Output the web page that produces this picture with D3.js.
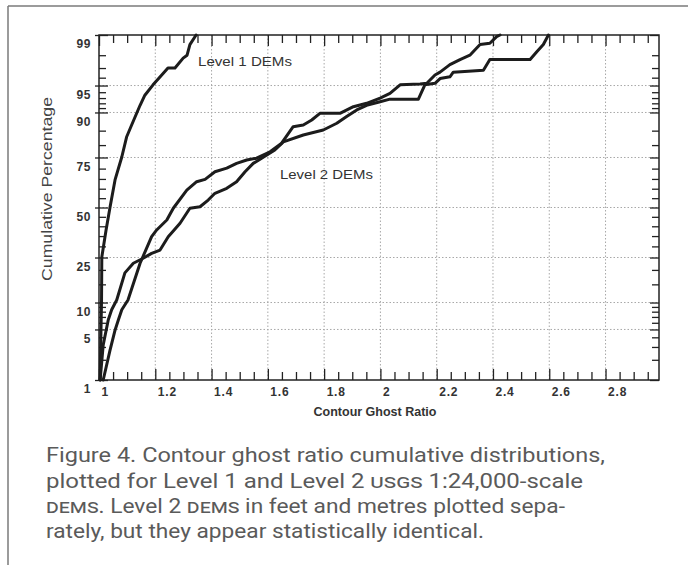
<!DOCTYPE html>
<html>
<head>
<meta charset="utf-8">
<script src="https://cdn.jsdelivr.net/npm/d3@7"></script>
<style>
  html, body { margin: 0; padding: 0; background: #ffffff; }
  svg { display: block; }
  .sc { font-variant-caps: all-small-caps; }
</style>
</head>
<body>
<svg id="chart" width="688" height="565"></svg>
<script>
// ---------------- DATA ----------------
const xMajorTicks = [1, 1.2, 1.4, 1.6, 1.8, 2, 2.2, 2.4, 2.6, 2.8];
const xMinorTicks = [1.05, 1.1, 1.15, 1.25, 1.3, 1.35, 1.45, 1.5, 1.55, 1.65, 1.7, 1.75,
  1.85, 1.9, 1.95, 2.05, 2.1, 2.15, 2.25, 2.3, 2.35, 2.45, 2.5, 2.55, 2.65, 2.7, 2.75,
  2.85, 2.9, 2.95];
const xGrid = [1.2, 1.4, 1.6, 1.8, 2, 2.2, 2.4, 2.6, 2.8];
const yMajorTicks = [1, 5, 10, 25, 50, 75, 90, 95, 99];
const yMinorTicks = [2, 3, 4, 6, 7, 8, 9, 15, 20, 30, 35, 40, 45, 55, 60, 65, 70, 80, 85,
  91, 92, 93, 94, 96, 97, 98];
const yGrid = [5, 10, 25, 50, 75, 90, 95];

// Level 1 DEMs
const level1Ratio = [1.004, 1.007, 1.009, 1.010, 1.025, 1.039, 1.057, 1.081, 1.098, 1.116,
  1.146, 1.163, 1.192, 1.223, 1.245, 1.270, 1.299, 1.313, 1.323, 1.345];
const level1Pct = [1.0, 4.9, 10.6, 25.2, 38.0, 50.0, 64.5, 75.2, 82.9, 86.7,
  91.6, 93.5, 95.1, 96.3, 97.0, 97.0, 97.8, 98.0, 98.6, 99.0];

// Level 2 DEMs (feet)
const level2aRatio = [1.004, 1.015, 1.033, 1.045, 1.063, 1.092, 1.122, 1.157, 1.187, 1.217,
  1.246, 1.288, 1.323, 1.359, 1.388, 1.412, 1.454, 1.489, 1.519, 1.548, 1.578, 1.625,
  1.655, 1.726, 1.797, 1.845, 1.880, 1.916, 1.951, 1.999, 2.034, 2.135, 2.158, 2.194,
  2.212, 2.247, 2.259, 2.366, 2.389, 2.532, 2.555, 2.579, 2.597];
const level2aPct = [1.0, 3.2, 6.5, 8.4, 10.6, 18.9, 22.6, 24.7, 26.8, 28.3,
  34.7, 41.6, 49.6, 50.4, 54.0, 57.6, 60.2, 63.6, 68.5, 72.4, 74.7, 78.1,
  81.2, 83.6, 85.2, 87.2, 89.0, 90.6, 91.6, 92.3, 92.8, 92.8, 95.1, 95.3,
  95.9, 96.1, 96.6, 96.8, 97.7, 97.7, 98.2, 98.6, 99.0];

// Level 2 DEMs (metres)
const level2bRatio = [1.015, 1.039, 1.057, 1.069, 1.081, 1.103, 1.146, 1.187, 1.205, 1.241,
  1.264, 1.312, 1.347, 1.377, 1.412, 1.454, 1.489, 1.525, 1.560, 1.608, 1.649, 1.690,
  1.726, 1.756, 1.785, 1.856, 1.904, 1.951, 1.999, 2.034, 2.070, 2.141, 2.165, 2.194,
  2.212, 2.247, 2.283, 2.318, 2.354, 2.389, 2.413, 2.425];
const level2bPct = [1.0, 2.7, 4.9, 6.5, 8.4, 10.6, 22.6, 34.7, 38.1, 43.3,
  49.6, 59.3, 63.6, 64.8, 68.5, 70.2, 72.4, 73.9, 74.7, 77.4, 80.7, 86.2,
  86.7, 88.1, 89.8, 89.8, 91.3, 92.0, 93.0, 93.8, 95.1, 95.2, 95.3, 96.3,
  96.6, 97.3, 97.7, 98.0, 98.6, 98.66, 98.94, 99.0];

const seriesLabels = ["Level 1 DEMs", "Level 2 DEMs"];
const xTitle = "Contour Ghost Ratio";
const yTitle = "Cumulative Percentage";

// ---------------- HELPERS ----------------
// inverse normal CDF (probability-paper axis)
function probit(p) {
  const a = [-3.969683028665376e+01, 2.209460984245205e+02, -2.759285104469687e+02,
    1.383577518672690e+02, -3.066479806614716e+01, 2.506628277459239e+00];
  const b = [-5.447609879822406e+01, 1.615858368580409e+02, -1.556989798598866e+02,
    6.680131188771972e+01, -1.328068155288572e+01];
  const c = [-7.784894002430293e-03, -3.223964580411365e-01, -2.400758277161838e+00,
    -2.549732539343734e+00, 4.374664141464968e+00, 2.938163982698783e+00];
  const d = [7.784695709041462e-03, 3.224671290700398e-01, 2.445134137142996e+00,
    3.754408661907416e+00];
  const pl = 0.02425, ph = 1 - pl;
  let q, r;
  if (p < pl) {
    q = Math.sqrt(-2 * Math.log(p));
    return (((((c[0]*q+c[1])*q+c[2])*q+c[3])*q+c[4])*q+c[5]) / ((((d[0]*q+d[1])*q+d[2])*q+d[3])*q+1);
  }
  if (p > ph) {
    q = Math.sqrt(-2 * Math.log(1 - p));
    return -(((((c[0]*q+c[1])*q+c[2])*q+c[3])*q+c[4])*q+c[5]) / ((((d[0]*q+d[1])*q+d[2])*q+d[3])*q+1);
  }
  q = p - 0.5; r = q * q;
  return (((((a[0]*r+a[1])*r+a[2])*r+a[3])*r+a[4])*r+a[5])*q / (((((b[0]*r+b[1])*r+b[2])*r+b[3])*r+b[4])*r+1);
}
const zip = (xs, ys) => xs.map((v, i) => [v, ys[i]]);

// ---------------- LAYOUT ----------------
const svg = d3.select("#chart");
const L = 99, R = 659, T = 35, B = 380;

const x = d3.scaleLinear().domain([1, 2.99]).range([L, R]);
const yz = d3.scaleLinear().domain([probit(0.01), probit(0.99)]).range([B, T]);
const y = p => yz(probit(p / 100));

const tickFont = "'Liberation Sans', Arial, sans-serif";

// outer page frame (scan border)
svg.append("line").attr("x1", 8).attr("y1", 6).attr("x2", 688).attr("y2", 6)
  .attr("stroke", "#7a7a7a").attr("stroke-width", 1.5);
svg.append("line").attr("x1", 8).attr("y1", 6).attr("x2", 8).attr("y2", 565)
  .attr("stroke", "#7a7a7a").attr("stroke-width", 1.5);

// gridlines
const grid = svg.append("g").attr("stroke", "#a8a8a8").attr("stroke-width", 1)
  .attr("stroke-dasharray", "1.5,2");
grid.selectAll("line.h").data(yGrid).join("line").attr("class", "h")
  .attr("x1", L).attr("x2", R).attr("y1", d => y(d)).attr("y2", d => y(d));
grid.selectAll("line.v").data(xGrid).join("line").attr("class", "v")
  .attr("y1", T).attr("y2", B).attr("x1", d => x(d)).attr("x2", d => x(d));

// axes
const fmtX = d => String(+d.toFixed(1));
function styleAxis(g) {
  g.select(".domain").remove();
  g.selectAll(".tick line").attr("stroke", "#222").attr("stroke-width", 1.3);
}
// bottom major
const gxb = svg.append("g").attr("transform", `translate(0,${B})`)
  .call(d3.axisBottom(x).tickValues(xMajorTicks).tickSize(-11).tickPadding(7).tickFormat(fmtX));
styleAxis(gxb);
gxb.selectAll(".tick text").attr("text-anchor", "start").attr("x", 2)
  .attr("font-family", tickFont).attr("font-weight", "bold").attr("font-size", 12)
  .attr("letter-spacing", 0.8).attr("fill", "#333");
// bottom minor
const gxbm = svg.append("g").attr("transform", `translate(0,${B})`)
  .call(d3.axisBottom(x).tickValues(xMinorTicks).tickSize(-8).tickFormat(""));
styleAxis(gxbm);
// top major/minor
const gxt = svg.append("g").attr("transform", `translate(0,${T})`)
  .call(d3.axisTop(x).tickValues(xMajorTicks).tickSize(-11).tickFormat(""));
styleAxis(gxt);
const gxtm = svg.append("g").attr("transform", `translate(0,${T})`)
  .call(d3.axisTop(x).tickValues(xMinorTicks).tickSize(-8).tickFormat(""));
styleAxis(gxtm);

// left major
const gyl = svg.append("g").attr("transform", `translate(${L},0)`)
  .call(d3.axisLeft(yz).tickValues(yMajorTicks.map(p => probit(p / 100)))
    .tickSize(-9).tickPadding(8).tickFormat((d, i) => yMajorTicks[i]));
styleAxis(gyl);
gyl.selectAll(".tick line").attr("x1", -4);
gyl.selectAll(".tick text").attr("y", 9)
  .attr("font-family", tickFont).attr("font-weight", "bold").attr("font-size", 12)
  .attr("letter-spacing", 0.6).attr("fill", "#333");
// left minor
const gylm = svg.append("g").attr("transform", `translate(${L},0)`)
  .call(d3.axisLeft(yz).tickValues(yMinorTicks.map(p => probit(p / 100))).tickSize(-7).tickFormat(""));
styleAxis(gylm);
// right major/minor
const gyr = svg.append("g").attr("transform", `translate(${R},0)`)
  .call(d3.axisRight(yz).tickValues(yMajorTicks.map(p => probit(p / 100))).tickSize(-9).tickFormat(""));
styleAxis(gyr);
const gyrm = svg.append("g").attr("transform", `translate(${R},0)`)
  .call(d3.axisRight(yz).tickValues(yMinorTicks.map(p => probit(p / 100))).tickSize(-7).tickFormat(""));
styleAxis(gyrm);

// plot frame
svg.append("rect").attr("x", L).attr("y", T).attr("width", R - L).attr("height", B - T)
  .attr("fill", "none").attr("stroke", "#222").attr("stroke-width", 1.5);

// curves
const line = d3.line().x(d => x(d[0])).y(d => y(d[1]));
const curves = [zip(level1Ratio, level1Pct), zip(level2aRatio, level2aPct), zip(level2bRatio, level2bPct)];
svg.append("g").selectAll("path").data(curves).join("path")
  .attr("d", line).attr("fill", "none").attr("stroke", "#1c1c1c")
  .attr("stroke-width", 3).attr("stroke-linejoin", "round").attr("stroke-linecap", "round");

// in-plot labels
svg.append("text").attr("x", 198).attr("y", 66).text(seriesLabels[0])
  .attr("font-family", tickFont).attr("font-size", 13.5).attr("fill", "#333")
  .attr("textLength", 94).attr("lengthAdjust", "spacingAndGlyphs");
svg.append("text").attr("x", 280).attr("y", 179).text(seriesLabels[1])
  .attr("font-family", tickFont).attr("font-size", 13.5).attr("fill", "#333")
  .attr("textLength", 93).attr("lengthAdjust", "spacingAndGlyphs");

// axis titles
svg.append("text").attr("x", 375).attr("y", 416).attr("text-anchor", "middle").text(xTitle)
  .attr("font-family", tickFont).attr("font-weight", "bold").attr("font-size", 12.5).attr("fill", "#333");
svg.append("text").attr("transform", "translate(52,189) rotate(-90)").attr("text-anchor", "middle")
  .text(yTitle).attr("font-family", tickFont).attr("font-size", 14).attr("fill", "#444")
  .attr("textLength", 184).attr("lengthAdjust", "spacingAndGlyphs");

// caption
const capFont = "'Liberation Sans Narrow', Roboto, 'Noto Sans', sans-serif";
const cap = svg.append("g").attr("font-family", capFont).attr("font-size", 20).attr("fill", "#5a5a5a");
const c1 = cap.append("text").attr("x", 46).attr("y", 462).attr("textLength", 559).attr("lengthAdjust", "spacingAndGlyphs");
c1.text("Figure 4. Contour ghost ratio cumulative distributions,");
const c2 = cap.append("text").attr("x", 46).attr("y", 488).attr("textLength", 537).attr("lengthAdjust", "spacingAndGlyphs");
c2.append("tspan").text("plotted for Level 1 and Level 2 ");
c2.append("tspan").attr("class", "sc").text("USGS");
c2.append("tspan").text(" 1:24,000-scale");
const c3 = cap.append("text").attr("x", 46).attr("y", 513).attr("textLength", 519).attr("lengthAdjust", "spacingAndGlyphs");
c3.append("tspan").attr("class", "sc").text("DEMs");
c3.append("tspan").text(". Level 2 ");
c3.append("tspan").attr("class", "sc").text("DEMs");
c3.append("tspan").text(" in feet and metres plotted sepa-");
const c4 = cap.append("text").attr("x", 46).attr("y", 538).attr("textLength", 438).attr("lengthAdjust", "spacingAndGlyphs");
c4.text("rately, but they appear statistically identical.");
</script>
</body>
</html>
